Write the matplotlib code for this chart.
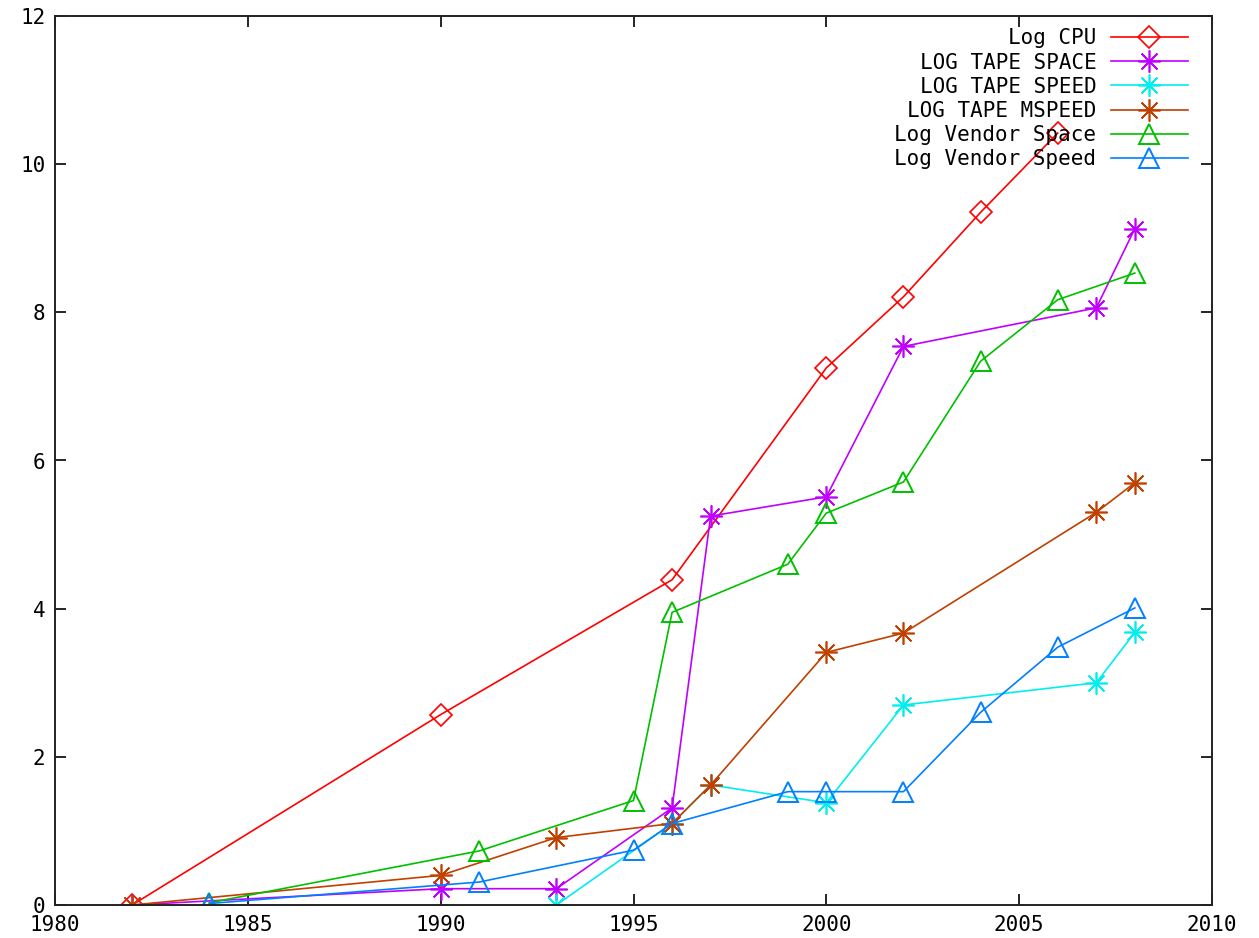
import matplotlib.pyplot as plt

# Yearly log-scale growth figures
cpu_years = [1982, 1990, 1996, 2000, 2002, 2004, 2006]
cpu_vals = [0.0, 2.57, 4.39, 7.25, 8.21, 9.35, 10.42]

space_years = [1982, 1990, 1993, 1996, 1997, 2000, 2002, 2007, 2008]
space_vals = [0.0, 0.22, 0.22, 1.31, 5.25, 5.51, 7.54, 8.06, 9.13]

speed_years = [1993, 1996, 1997, 2000, 2002, 2007, 2008]
speed_vals = [0.0, 1.10, 1.62, 1.38, 2.70, 3.00, 3.68]

mspeed_years = [1982, 1990, 1993, 1996, 1997, 2000, 2002, 2007, 2008]
mspeed_vals = [0.0, 0.40, 0.91, 1.10, 1.62, 3.41, 3.67, 5.30, 5.70]

vspace_years = [1984, 1991, 1995, 1996, 1999, 2000, 2002, 2004, 2006, 2008]
vspace_vals = [0.03, 0.73, 1.41, 3.95, 4.60, 5.29, 5.71, 7.34, 8.17, 8.53]

vspeed_years = [1984, 1991, 1995, 1996, 1999, 2000, 2002, 2004, 2006, 2008]
vspeed_vals = [0.02, 0.31, 0.74, 1.10, 1.53, 1.53, 1.53, 2.60, 3.48, 4.01]

x_ticks = list(range(1980, 2011, 5))
y_ticks = list(range(0, 13, 2))

mono = "DejaVu Sans Mono"
star = (8, 2, 0)

fig = plt.figure(figsize=(12.59, 9.38), dpi=100)
ax = fig.add_axes([55 / 1259, 33 / 938, 1157 / 1259, 889 / 938])

lw = 1.2
ax.plot(cpu_years, cpu_vals, color="#ff0000", lw=lw, marker="D", ms=11,
        mfc="none", mew=1.2, label="Log CPU")
ax.plot(space_years, space_vals, color="#c000ff", lw=lw, marker=star, ms=16,
        mew=1.2, label="LOG TAPE SPACE")
ax.plot(speed_years, speed_vals, color="#00eeee", lw=lw, marker=star, ms=16,
        mew=1.2, label="LOG TAPE SPEED")
ax.plot(mspeed_years, mspeed_vals, color="#c04000", lw=lw, marker=star, ms=16,
        mew=1.2, label="LOG TAPE MSPEED")
ax.plot(vspace_years, vspace_vals, color="#00c000", lw=lw, marker="^", ms=14,
        mfc="none", mew=1.4, label="Log Vendor Space")
ax.plot(vspeed_years, vspeed_vals, color="#0080ff", lw=lw, marker="^", ms=14,
        mfc="none", mew=1.4, label="Log Vendor Speed")

ax.set_xlim(1980, 2010)
ax.set_ylim(0, 12)
ax.set_xticks(x_ticks)
ax.set_yticks(y_ticks)
ax.tick_params(direction="in", length=8, width=1.2, top=True, right=True,
               labelsize=15, pad=7)
for lab in ax.get_xticklabels() + ax.get_yticklabels():
    lab.set_family(mono)
for s in ax.spines.values():
    s.set_linewidth(1.4)
    s.set_color("#222222")

ax.legend(loc="upper right", bbox_to_anchor=(0.9864, 0.9955), frameon=False,
          markerfirst=False, prop={"family": mono, "size": 15},
          handlelength=3.7, handletextpad=0.7, labelspacing=0.2,
          borderaxespad=0.0, numpoints=1)

fig.savefig("out.png", dpi=100)
